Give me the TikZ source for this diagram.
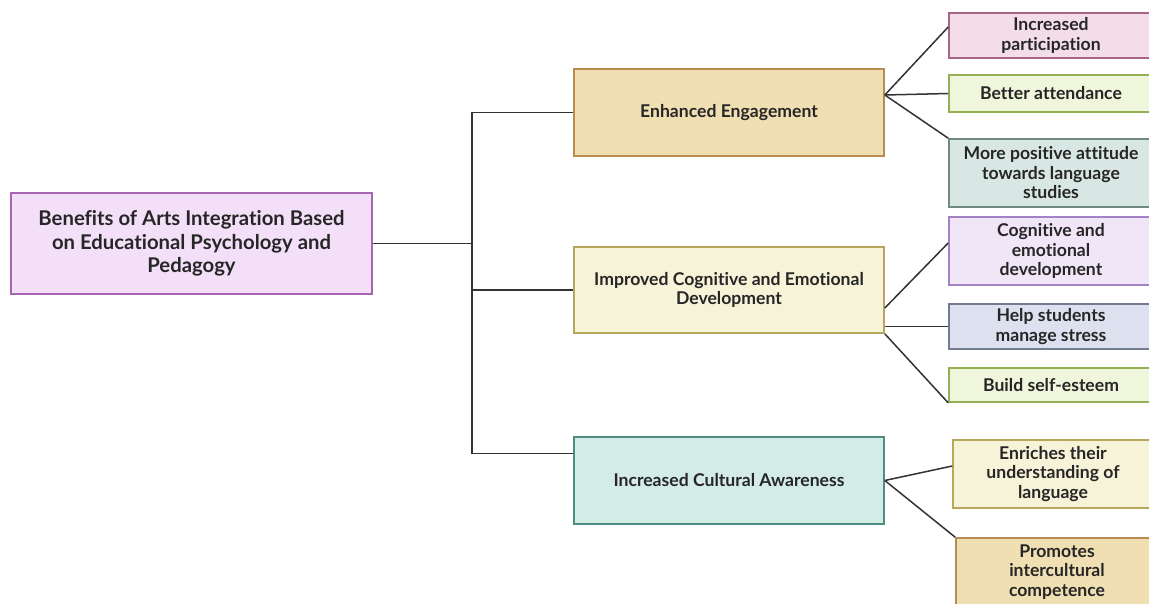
\documentclass[tikz,border=0pt]{standalone}
\usepackage{fontspec}
\setmainfont{Lato}[Ligatures=NoCommon]
\definecolor{rootF}{HTML}{F3E0F8}\definecolor{rootD}{HTML}{A565B0}
\definecolor{tanF}{HTML}{EFDFB3}\definecolor{tanD}{HTML}{B88C4E}
\definecolor{creamF}{HTML}{F6F3D8}\definecolor{creamD}{HTML}{B8A65C}
\definecolor{tealF}{HTML}{D3ECE8}\definecolor{tealD}{HTML}{4F8C82}
\definecolor{pinkF}{HTML}{F3DDE8}\definecolor{pinkD}{HTML}{A8658A}
\definecolor{limeF}{HTML}{EFF6DB}\definecolor{limeD}{HTML}{93B055}
\definecolor{grayF}{HTML}{D8E7E3}\definecolor{grayD}{HTML}{708A82}
\definecolor{lilacF}{HTML}{F0E6F8}\definecolor{lilacD}{HTML}{A383C6}
\definecolor{blueF}{HTML}{DDE1EF}\definecolor{blueD}{HTML}{737B91}
\definecolor{lineC}{HTML}{333333}
\begin{document}
\begin{tikzpicture}[x=1pt,y=-1pt,
  box/.style={draw, line width=1.6pt, inner sep=0pt, align=center, font=\bfseries\fontsize{17.6}{19.5}\selectfont, text=black!85},
  rootbox/.style={box, font=\bfseries\fontsize{20.3}{23.5}\selectfont},
  conn/.style={draw=lineC, line width=1.5pt}]
\clip (0,0) rectangle (1149,603);
\fill[white] (0,0) rectangle (1149,603);
\node[rootbox, fill=rootF, draw=rootD, minimum width=361pt, minimum height=101pt] (root) at (191.5,243.5) {Benefits of Arts Integration Based\\on Educational Psychology and\\Pedagogy};
\node[box, fill=tanF, draw=tanD, minimum width=310pt, minimum height=87pt] (b1) at (729,112.5) {Enhanced Engagement};
\node[box, fill=creamF, draw=creamD, minimum width=310pt, minimum height=86pt] (b2) at (729,290) {Improved Cognitive and Emotional\\Development};
\node[box, fill=tealF, draw=tealD, minimum width=310pt, minimum height=87pt] (b3) at (729,480.5) {Increased Cultural Awareness};
\node[box, fill=pinkF, draw=pinkD, minimum width=204pt, minimum height=45pt] (l1) at (1051,35.5) {Increased\\participation};
\node[box, fill=limeF, draw=limeD, minimum width=204pt, minimum height=37pt] (l2) at (1051,93.5) {Better attendance};
\node[box, fill=grayF, draw=grayD, minimum width=204pt, minimum height=68pt] (l3) at (1051,173) {More positive attitude\\towards language\\studies};
\node[box, fill=lilacF, draw=lilacD, minimum width=204pt, minimum height=68pt] (l4) at (1051,251) {Cognitive and\\emotional\\development};
\node[box, fill=blueF, draw=blueD, minimum width=204pt, minimum height=45pt] (l5) at (1051,326.5) {Help students\\manage stress};
\node[box, fill=limeF, draw=limeD, minimum width=204pt, minimum height=34pt] (l6) at (1051,385) {Build self-esteem};
\node[box, fill=creamF, draw=creamD, minimum width=200pt, minimum height=68pt] (l7) at (1053,474) {Enriches their\\understanding of\\language};
\node[box, fill=tanF, draw=tanD, minimum width=202pt, minimum height=68pt] (l8) at (1057,572) {Promotes\\intercultural\\competence};
% trunk
\coordinate (j) at (472,243.5);
\draw[conn] (root.east) -- (j);
\coordinate (b3in) at ([yshift=27]b3.west);
\draw[conn] (b1.west) -- (b1.west -| j) -- (b3in -| j) -- (b3in);
\draw[conn] (j |- b2.west) -- (b2.west);
% fan 1
\coordinate (f1) at ([yshift=17.5]b1.east);
\draw[conn] (f1) -- ([yshift=8.5]l1.west);
\draw[conn] (f1) -- (l2.west);
\draw[conn] (f1) -- (l3.north west);
% fan 2
\draw[conn] ([yshift=-18]b2.east) -- ([yshift=8]l4.west);
\draw[conn] (b2.east |- l5.west) -- (l5.west);
\draw[conn] (b2.south east) -- (l6.south west);
% fan 3
\draw[conn] (b3.east) -- ([yshift=8]l7.west);
\draw[conn] (b3.east) -- (l8.north west);
\end{tikzpicture}
\end{document}
